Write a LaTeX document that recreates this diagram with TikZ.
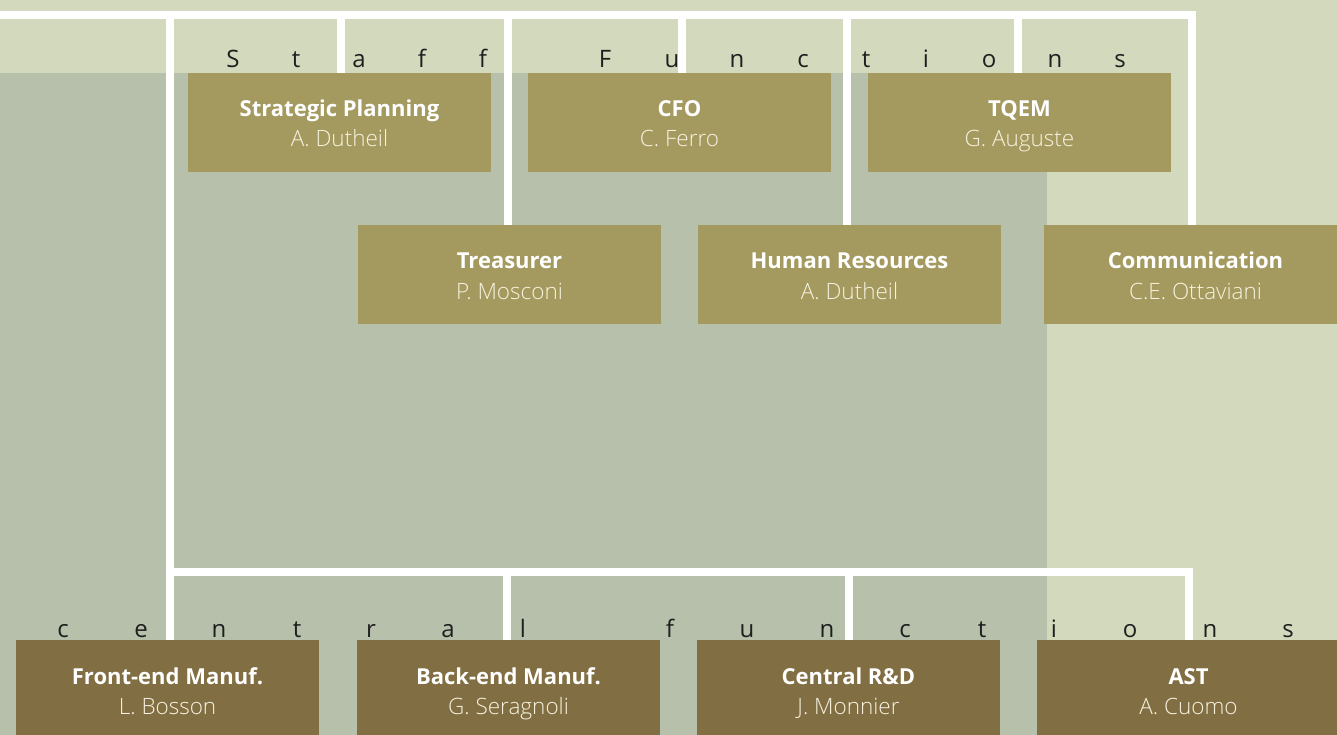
\documentclass[tikz,border=0pt]{standalone}
\usepackage{fontspec}
\setmainfont{Open Sans}
\newfontfamily\lightfont{Open Sans Light}
\definecolor{bglight}{HTML}{D3D9BC}
\definecolor{bgdark}{HTML}{B6C0AB}
\definecolor{staffcol}{HTML}{A49A5F}
\definecolor{centralcol}{HTML}{826E43}
\definecolor{lettercol}{HTML}{1F1F1F}
\definecolor{personcol}{HTML}{F6F2DE}
\newcommand\orgunit[6]{%
  \node[#4] (#1) at (#2,#3) {};
  \node[titletext] (#1-t) at ([yshift=-44pt]#1.north) {#5};
  \node[persontext] (#1-p) at ([yshift=-74pt]#1.north) {#6};
}
\begin{document}
\begin{tikzpicture}[x=1pt,y=-1pt,
  wire/.style={draw=white,line width=8pt},
  unitbox/.style={draw=none,minimum width=303pt,minimum height=99pt,inner sep=0pt,outer sep=0pt,anchor=north west},
  staffbox/.style={unitbox,fill=staffcol},
  centralbox/.style={unitbox,fill=centralcol},
  titletext/.style={anchor=base,inner sep=0pt,text=white,font=\bfseries\fontsize{22}{26}\selectfont},
  persontext/.style={anchor=base,inner sep=0pt,text=personcol,font=\lightfont\fontsize{22.5}{26}\selectfont},
  spaced/.style={anchor=base,inner sep=0pt,text=lettercol,font=\fontsize{24}{28}\selectfont}]
\useasboundingbox (0,0) rectangle (1337,735);
\clip (0,0) rectangle (1337,735);
% backgrounds
\fill[bglight] (0,0) rectangle (1337,735);
\fill[bgdark] (0,73) rectangle (1047,735);
% boxes
\orgunit{sp}{188}{73}{staffbox}{Strategic Planning}{A. Dutheil}
\orgunit{cfo}{528}{73}{staffbox}{CFO}{C. Ferro}
\orgunit{tqem}{868}{73}{staffbox}{TQEM}{G. Auguste}
\orgunit{treas}{358}{225}{staffbox}{Treasurer}{P. Mosconi}
\orgunit{hr}{698}{225}{staffbox}{Human Resources}{A. Dutheil}
\orgunit{comm}{1044}{225}{staffbox}{Communication}{C.E. Ottaviani}
\orgunit{fe}{16}{640}{centralbox}{Front-end Manuf.}{L. Bosson}
\orgunit{be}{357}{640}{centralbox}{Back-end Manuf.}{G. Seragnoli}
\orgunit{rd}{697}{640}{centralbox}{Central R\&D}{J. Monnier}
\orgunit{ast}{1037}{640}{centralbox}{AST}{A. Cuomo}
% connectors: staff functions
\coordinate (tl) at (0,15);
\coordinate (tr) at (1192,15);
\coordinate (j0) at (170,15);
\coordinate (jsp) at (340.5,15);
\coordinate (jtr) at (508,15);
\coordinate (jcfo) at (682,15);
\coordinate (jhr) at (847,15);
\coordinate (jtq) at (1018,15);
\draw[wire] (tl) -- (tr) -- (tr |- comm.north);
\draw[wire] (j0) -- (j0 |- fe.north);
\draw[wire] (jsp) -- (jsp |- sp.north);
\draw[wire] (jtr) -- (jtr |- treas.north);
\draw[wire] (jcfo) -- (jcfo |- cfo.north);
\draw[wire] (jhr) -- (jhr |- hr.north);
\draw[wire] (jtq) -- (jtq |- tqem.north);
% connectors: central functions
\coordinate (bl) at (170,572);
\coordinate (br) at (1189,572);
\coordinate (jbe) at (507,572);
\coordinate (jrd) at (849,572);
\draw[wire] (bl) -- (br) -- (br |- ast.north);
\draw[wire] (jbe) -- (jbe |- be.north);
\draw[wire] (jrd) -- (jrd |- rd.north);
% spaced headings
\foreach \ch/\xx [count=\i] in {S/233,t/296,a/359,f/422,f/483,F/605,u/672,n/737,c/803,t/866,i/926,o/989,n/1055,s/1120}
  \node[spaced] (sf\i) at (\xx,68) {\ch};
\foreach \ch/\xx [count=\i] in {c/63,e/141,n/219,t/297,r/371,a/448,l/523,f/670,u/747,n/827,c/905,t/982,i/1054,o/1130,n/1210,s/1288}
  \node[spaced] (cf\i) at (\xx,637) {\ch};
\end{tikzpicture}
\end{document}
